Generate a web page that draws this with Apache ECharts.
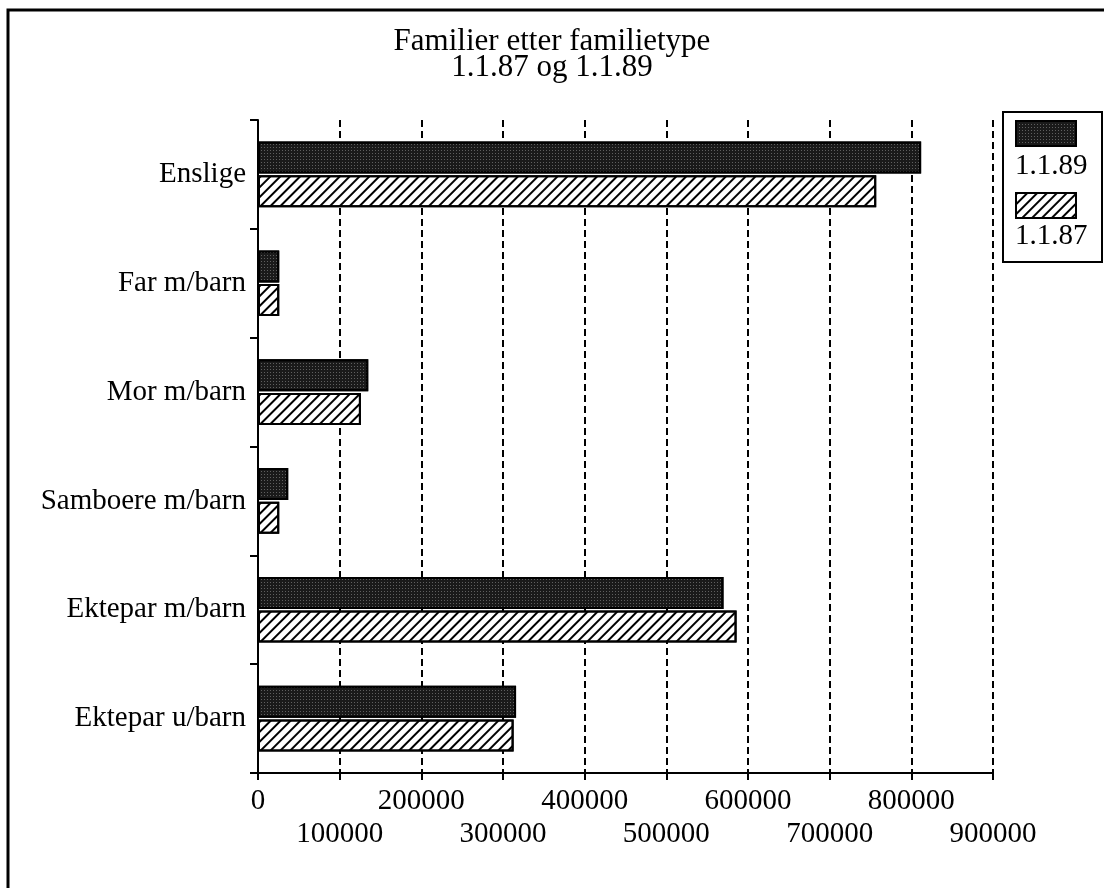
<!DOCTYPE html>
<html>
<head>
<meta charset="utf-8">
<title>Familier etter familietype</title>
<script src="https://cdn.jsdelivr.net/npm/echarts@6/dist/echarts.min.js"></script>
<style>
  html, body { margin: 0; padding: 0; background: #fff; }
  #chart { width: 1104px; height: 888px; }
</style>
</head>
<body>
<div id="chart"></div>
<script>
// kategorier, nedenfra og opp
const categories = ['Ektepar u/barn', 'Ektepar m/barn', 'Samboere m/barn', 'Mor m/barn', 'Far m/barn', 'Enslige']
const seriesNames = ['1.1.89', '1.1.87']
const values89 = [316000, 570000, 37000, 135000, 26000, 812000]
const values87 = [313000, 586000, 26000, 126000, 26000, 757000]
const xTicks = [0, 100000, 200000, 300000, 400000, 500000, 600000, 700000, 800000, 900000]

const serif = '"Liberation Serif", "DejaVu Serif", serif'

// mønstre for søylene
const dotted = {
  symbol: 'rect',
  symbolSize: 1,
  color: 'rgba(255,255,255,0.3)',
  dashArrayX: [1, 2],
  dashArrayY: [1, 2]
}
const hatched = {
  symbol: 'rect',
  symbolSize: 1,
  color: '#000',
  dashArrayX: [1, 0],
  dashArrayY: [2, 5],
  rotation: -Math.PI / 4
}

// to x-akser: partall-etiketter på første rad, oddetall på andre rad
function xLabelFmt(odd) {
  return (v) => {
    const i = xTicks.indexOf(v)
    return (i % 2 === 1) === odd ? String(v) : ''
  }
}

const chart = echarts.init(document.getElementById('chart'))

chart.setOption({
  backgroundColor: '#fff',
  animation: false,
  title: {
    text: 'Familier etter familietype\n1.1.87 og 1.1.89',
    left: 'center',
    top: 24,
    textStyle: {
      fontFamily: serif,
      fontWeight: 'normal',
      fontSize: 31,
      lineHeight: 26,
      color: '#000'
    }
  },
  legend: {
    orient: 'vertical',
    left: 1003,
    top: 112,
    padding: [8, 0, 0, 12],
    icon: 'rect',
    itemWidth: 60,
    itemHeight: 25,
    itemGap: 45,
    data: seriesNames,
    formatter: () => '',
    selectedMode: false
  },
  graphic: [
    // ytre ramme (bare topp og venstre er med i bildet)
    {
      type: 'polyline',
      shape: { points: [[8, 888], [8, 10], [1104, 10]] },
      style: { stroke: '#000', lineWidth: 3, fill: null }
    },
    // tegnforklaringsboks
    {
      type: 'rect',
      shape: { x: 1003, y: 112, width: 99, height: 150 },
      style: { stroke: '#000', lineWidth: 2, fill: null }
    },
    {
      type: 'text',
      left: 1015,
      top: 152,
      style: { text: seriesNames[0], font: '29px ' + serif, fill: '#000' }
    },
    {
      type: 'text',
      left: 1015,
      top: 222,
      style: { text: seriesNames[1], font: '29px ' + serif, fill: '#000' }
    }
  ],
  grid: {
    left: 258,
    right: 111,
    top: 120,
    bottom: 115,
    containLabel: false
  },
  xAxis: [
    {
      type: 'value',
      min: xTicks[0],
      max: xTicks[xTicks.length - 1],
      interval: 100000,
      axisLine: { show: true, lineStyle: { color: '#000', width: 2 } },
      axisTick: { show: true, length: 7, lineStyle: { color: '#000', width: 2 } },
      splitLine: {
        show: true,
        lineStyle: { color: '#000', width: 2, type: [7, 4] }
      },
      axisLabel: {
        color: '#000',
        fontFamily: serif,
        fontSize: 29,
        margin: 14,
        showMinLabel: true,
        showMaxLabel: true,
        formatter: xLabelFmt(false)
      }
    },
    {
      type: 'value',
      position: 'bottom',
      min: xTicks[0],
      max: xTicks[xTicks.length - 1],
      interval: 100000,
      axisLine: { show: false },
      axisTick: { show: false },
      splitLine: { show: false },
      axisLabel: {
        color: '#000',
        fontFamily: serif,
        fontSize: 29,
        margin: 47,
        showMinLabel: true,
        showMaxLabel: true,
        formatter: xLabelFmt(true)
      }
    }
  ],
  yAxis: {
    type: 'category',
    data: categories,
    axisLine: { show: true, lineStyle: { color: '#000', width: 2 } },
    axisTick: { show: true, length: 8, lineStyle: { color: '#000', width: 2 } },
    splitLine: { show: false },
    axisLabel: {
      color: '#000',
      fontFamily: serif,
      fontSize: 29,
      margin: 12
    }
  },
  series: [
    {
      name: seriesNames[0],
      type: 'bar',
      data: values89,
      barWidth: 32,
      barGap: '5%',
      itemStyle: { color: '#1a1a1a', borderColor: '#000', borderWidth: 2, decal: dotted }
    },
    {
      name: seriesNames[1],
      type: 'bar',
      data: values87,
      barWidth: 32,
      barGap: '5%',
      itemStyle: { color: '#fff', borderColor: '#000', borderWidth: 2, decal: hatched }
    }
  ]
})
</script>
</body>
</html>
